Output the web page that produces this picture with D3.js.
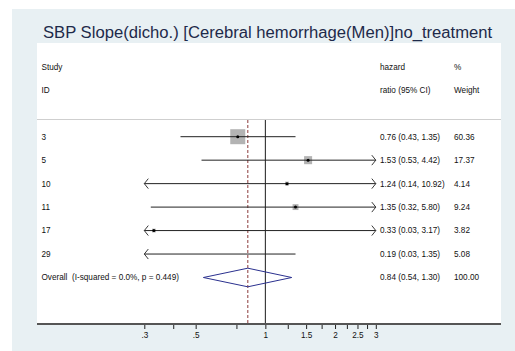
<!DOCTYPE html>
<html>
<head>
<meta charset="utf-8">
<script src="https://cdn.jsdelivr.net/npm/d3@7"></script>
<style>
  html, body { margin: 0; padding: 0; background: #ffffff; }
  svg { display: block; }
  text { font-family: "Liberation Sans", Arial, sans-serif; }
</style>
</head>
<body>
<svg id="chart" width="515" height="351"></svg>
<script>
// Study rows of the forest plot
const studies = ["3", "5", "10", "11", "17", "29"];
const hazardRatio = [0.76, 1.53, 1.24, 1.35, 0.33, 0.19];
const lowerCI = [0.43, 0.53, 0.14, 0.32, 0.03, 0.03];
const upperCI = [1.35, 4.42, 10.92, 5.80, 3.17, 1.35];
const weights = [60.36, 17.37, 4.14, 9.24, 3.82, 5.08];

// Pooled estimate
const overallLabel = "Overall  (I-squared = 0.0%, p = 0.449)";
const overall = { hr: 0.84, lo: 0.54, hi: 1.30, weight: 100.00 };

// Axis ticks (labelled and unlabelled)
const tickValues = [0.3, 0.4, 0.5, 0.75, 1, 1.25, 1.5, 1.75, 2, 2.25, 2.5, 2.75, 3];
const tickLabels = [".3", "", ".5", "", "1", "", "1.5", "", "2", "", "2.5", "", "3"];

const title = "SBP Slope(dicho.) [Cerebral hemorrhage(Men)]no_treatment";

const svg = d3.select("#chart");
const fmt = d3.format(".2f");

// Frame and plot region
svg.append("rect").attr("x", 12).attr("y", 9).attr("width", 503).attr("height", 342)
  .attr("fill", "#e8f0f3");
svg.append("rect").attr("x", 37).attr("y", 43).attr("width", 464).attr("height", 281)
  .attr("fill", "#ffffff");

svg.append("text").attr("x", 43).attr("y", 38)
  .attr("font-size", 16.65).attr("fill", "#1e2a4a").text(title);

const x = d3.scaleLog().domain([0.3, 3]).range([144.3, 375.8]);
const rowKeys = studies.concat(["overall"]);
const y = d3.scalePoint().domain(rowKeys).range([136.7, 277.5]);

const tableFont = 8.2;
const colStudy = 41.5, colHR = 380, colW = 454;

// Column headings
const heads = [
  [colStudy, 66.7, "Study"], [colStudy, 90, "ID"],
  [colHR, 66.7, "hazard"], [colHR, 90, "ratio (95% CI)"],
  [colW, 66.7, "%"], [colW, 90, "Weight"]
];
svg.selectAll("text.head").data(heads).join("text").attr("class", "head")
  .attr("x", d => d[0]).attr("y", d => d[1]).attr("dy", "0.35em")
  .attr("font-size", tableFont).attr("fill", "#111").text(d => d[2]);

svg.append("line").attr("x1", 37).attr("x2", 501).attr("y1", 119.5).attr("y2", 119.5)
  .attr("stroke", "#cfcfcf").attr("stroke-width", 1);

// Reference lines: null effect and pooled estimate
svg.append("line").attr("x1", x(1)).attr("x2", x(1)).attr("y1", 120).attr("y2", 324)
  .attr("stroke", "#1a1a1a").attr("stroke-width", 1);
svg.append("line").attr("x1", x(overall.hr)).attr("x2", x(overall.hr)).attr("y1", 120).attr("y2", 324)
  .attr("stroke", "#8b3a3a").attr("stroke-width", 1).attr("stroke-dasharray", "3,2");

const rows = studies.map((s, i) => ({
  id: s, hr: hazardRatio[i], lo: lowerCI[i], hi: upperCI[i], w: weights[i]
}));
const [dMin, dMax] = x.domain();
const maxW = d3.max(weights);
const boxSide = w => 15 * Math.sqrt(w / maxW);

const g = svg.append("g");
rows.forEach(r => {
  const yy = y(r.id);
  const x1 = x(Math.max(r.lo, dMin)), x2 = x(Math.min(r.hi, dMax));
  // weight box
  if (r.hr >= dMin && r.hr <= dMax) {
    const s = boxSide(r.w);
    g.append("rect").attr("x", x(r.hr) - s / 2).attr("y", yy - s / 2)
      .attr("width", s).attr("height", s).attr("fill", "#b3b3b3");
  }
  g.append("line").attr("x1", x1).attr("x2", x2).attr("y1", yy).attr("y2", yy)
    .attr("stroke", "#222").attr("stroke-width", 1);
  if (r.lo < dMin) {
    g.append("path").attr("d", `M${x1 + 4},${yy - 5}L${x1},${yy}L${x1 + 4},${yy + 5}`)
      .attr("fill", "none").attr("stroke", "#222").attr("stroke-width", 0.9);
  }
  if (r.hi > dMax) {
    g.append("path").attr("d", `M${x2 - 4},${yy - 5}L${x2},${yy}L${x2 - 4},${yy + 5}`)
      .attr("fill", "none").attr("stroke", "#222").attr("stroke-width", 0.9);
  }
  if (r.hr >= dMin && r.hr <= dMax) {
    g.append("circle").attr("cx", x(r.hr)).attr("cy", yy).attr("r", 1.5).attr("fill", "#000");
  }
  g.append("text").attr("x", colStudy).attr("y", yy).attr("dy", "0.35em")
    .attr("font-size", tableFont).attr("fill", "#111").text(r.id);
  g.append("text").attr("x", colHR).attr("y", yy).attr("dy", "0.35em")
    .attr("font-size", tableFont).attr("fill", "#111")
    .text(`${fmt(r.hr)} (${fmt(r.lo)}, ${fmt(r.hi)})`);
  g.append("text").attr("x", colW).attr("y", yy).attr("dy", "0.35em")
    .attr("font-size", tableFont).attr("fill", "#111").text(fmt(r.w));
});

// Pooled diamond
const yo = y("overall");
svg.append("path")
  .attr("d", `M${x(overall.lo)},${yo}L${x(overall.hr)},${yo - 9.3}L${x(overall.hi)},${yo}L${x(overall.hr)},${yo + 9.3}Z`)
  .attr("fill", "none").attr("stroke", "#2b318f").attr("stroke-width", 1);
svg.append("text").attr("x", colStudy).attr("y", yo).attr("dy", "0.35em")
  .attr("font-size", tableFont).attr("fill", "#111").style("white-space", "pre").text(overallLabel);
svg.append("text").attr("x", colHR).attr("y", yo).attr("dy", "0.35em")
  .attr("font-size", tableFont).attr("fill", "#111")
  .text(`${fmt(overall.hr)} (${fmt(overall.lo)}, ${fmt(overall.hi)})`);
svg.append("text").attr("x", colW).attr("y", yo).attr("dy", "0.35em")
  .attr("font-size", tableFont).attr("fill", "#111").text(fmt(overall.weight));

// Horizontal axis
const axis = d3.axisBottom(x).tickValues(tickValues)
  .tickFormat((d, i) => tickLabels[i]).tickSize(5).tickPadding(3);
const ax = svg.append("g").attr("transform", "translate(0,324)").call(axis);
ax.select(".domain").remove();
ax.selectAll(".tick line").attr("stroke", "#222");
ax.selectAll(".tick text").attr("font-size", tableFont).attr("fill", "#111")
  .attr("font-family", "'Liberation Sans', Arial, sans-serif");
svg.append("line").attr("x1", 37).attr("x2", 501).attr("y1", 324).attr("y2", 324)
  .attr("stroke", "#555").attr("stroke-width", 2);
</script>
</body>
</html>
